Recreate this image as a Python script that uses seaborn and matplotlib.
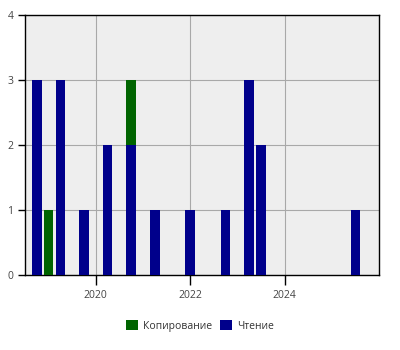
import matplotlib
matplotlib.use("Agg")
import matplotlib.pyplot as plt
import seaborn as sns
import pandas as pd

periods = ["2018-10", "2019-01", "2019-04", "2019-10", "2020-04", "2020-10",
           "2021-04", "2022-01", "2022-10", "2023-04", "2023-07", "2025-07"]
reading = [3, 0, 3, 1, 2, 2, 1, 1, 1, 3, 2, 1]   # Чтение
copying = [0, 1, 0, 0, 0, 1, 0, 0, 0, 0, 0, 0]   # Копирование
year_ticks = [2020, 2022, 2024]
series_names = ["Копирование", "Чтение"]
colors = ["#006400", "#00008b"]

def to_year(p):
    y, m = p.split("-")
    return int(y) + (int(m) - 1) / 12.0

df = pd.DataFrame({
    "t": [to_year(p) for p in periods],
    "read": reading,
    "total": [r + c for r, c in zip(reading, copying)],
})

sns.set_style("white")
plt.rcParams["font.family"] = ["Open Sans", "DejaVu Sans"]

fig = plt.figure(figsize=(4, 3.5), dpi=100)
ax = fig.add_axes([0.0625, 0.2143, 0.885, 0.7427])
ax.set_facecolor("#eeeeee")

sns.barplot(data=df, x="t", y="total", native_scale=True, color=colors[0],
            saturation=1, linewidth=0, width=0.8, ax=ax, errorbar=None, zorder=3)
sns.barplot(data=df, x="t", y="read", native_scale=True, color=colors[1],
            saturation=1, linewidth=0, width=0.8, ax=ax, errorbar=None, zorder=4)

ax.set_xlim(2018.5, 2026.0)
ax.set_ylim(0, 4)
ax.set_xticks(year_ticks)
ax.set_xticklabels([str(y) for y in year_ticks])
ax.set_yticks([0, 1, 2, 3, 4])
ax.set_xlabel("")
ax.set_ylabel("")
ax.grid(True, color="#a8a8a8", linewidth=0.8, zorder=1)
ax.set_axisbelow(True)
for s in ax.spines.values():
    s.set_color("black")
    s.set_linewidth(1.0)
    s.set_visible(True)
ax.tick_params(axis="both", colors="black", labelcolor="#444444", labelsize=7.5,
               length=5, width=1, direction="out", bottom=True, left=True)
ax.tick_params(axis="x", length=7)

from matplotlib.patches import Patch
handles = [Patch(facecolor=c, edgecolor="none") for c in colors]
fig.legend(handles, series_names, loc="center", bbox_to_anchor=(0.5, 0.068),
           ncol=2, frameon=False, fontsize=7.5, handlelength=1.1, handleheight=1.1,
           handletextpad=0.5, columnspacing=0.8, labelcolor="#333333")

fig.savefig("out.png", dpi=100)
